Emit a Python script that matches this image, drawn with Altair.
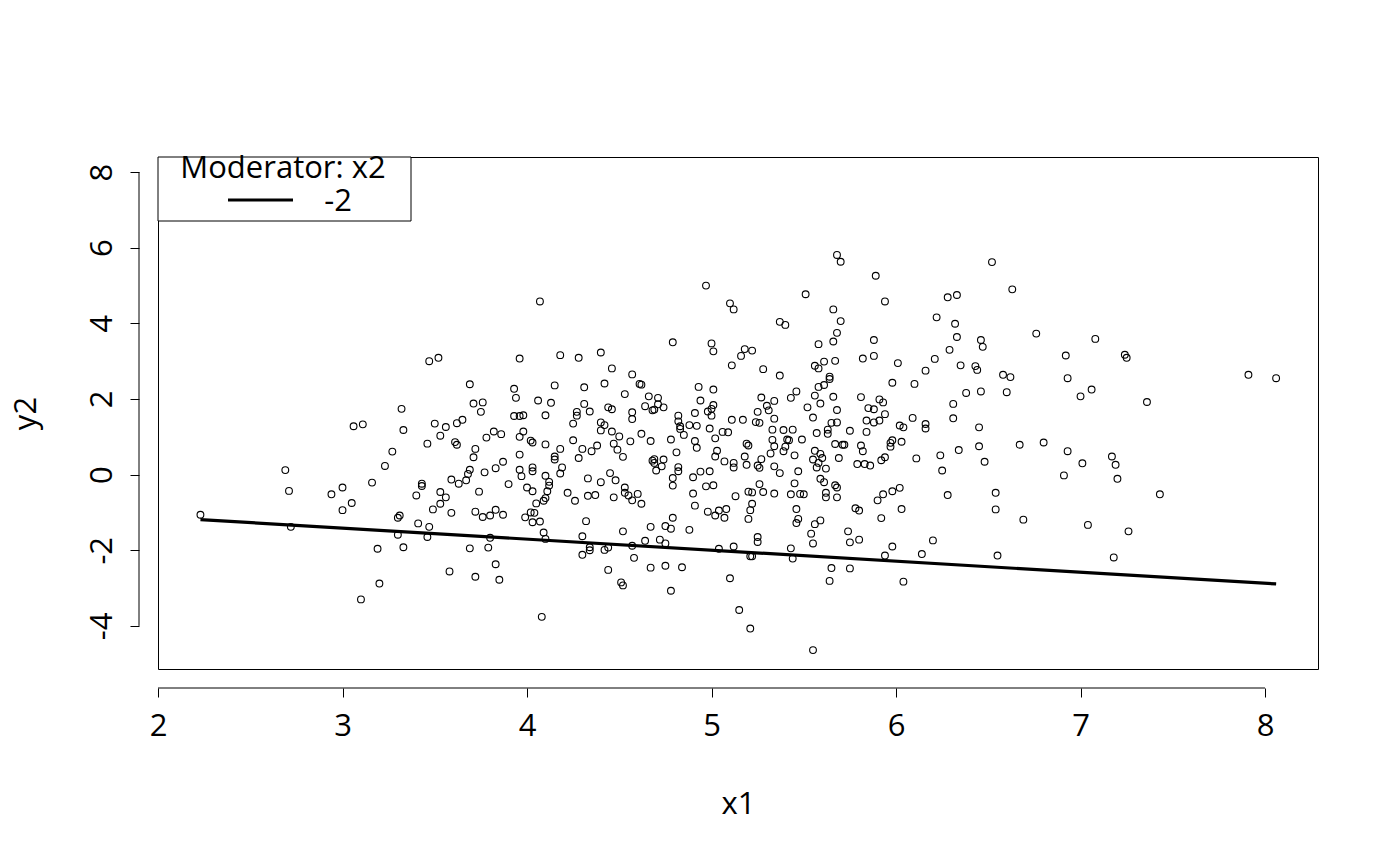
import altair as alt
import pandas as pd

# scatter of x1 vs y2
x1 = [
    3.32, 3.06, 3.11, 3.33, 3.27, 2.69, 2.71, 2.23, 2.72, 2.94, 3.00, 3.05, 3.00, 3.16, 3.23,
    3.30, 3.31, 3.30, 3.19, 3.33, 3.20, 3.10, 3.43, 3.43, 3.40, 3.41,
    4.07, 3.47, 3.52, 3.96, 4.18, 4.28, 4.40, 3.69, 3.93, 4.15, 4.31, 3.94, 4.06, 4.13, 4.31,
    3.71, 3.76, 3.75, 4.27, 4.27, 4.34, 3.93, 3.96, 3.98, 4.10, 3.50, 3.56, 3.62, 3.65, 4.25,
    4.40, 4.40, 3.53, 3.46, 3.61, 3.62, 3.82, 3.86, 3.78, 3.96, 3.98, 4.02, 4.03, 4.10, 4.25,
    3.72, 4.18, 4.30, 4.35, 4.38,
    3.71, 3.96, 4.15, 4.15, 4.28, 3.87, 3.69, 3.68, 3.67, 3.77, 3.83, 3.96, 3.97, 4.03, 4.03,
    4.10, 4.19, 4.18, 4.33, 4.40, 3.59, 3.63, 3.90, 4.12, 4.12, 4.11, 4.00, 4.03, 3.74, 3.53,
    3.56, 3.53, 3.49, 3.59, 4.22, 4.26, 4.33, 4.37, 4.10, 4.09, 4.05, 4.02, 4.04, 3.72, 3.76,
    3.80, 3.83, 3.87, 3.99, 4.03, 4.07, 4.32, 3.47, 3.46, 4.09, 4.10, 4.30, 3.80, 3.69, 3.79,
    4.34, 4.34, 4.30, 3.83, 3.58, 3.72, 3.85, 4.08,
    4.97, 5.10, 5.12, 4.79, 5.00, 5.01, 5.18, 5.22, 5.16, 5.11, 5.28, 4.46, 4.57, 4.42, 4.61,
    4.62, 4.53, 4.93, 5.01, 4.66, 4.71, 4.94, 4.71, 4.74, 4.64, 4.68, 4.69, 4.44, 4.46, 4.57,
    4.57, 5.01, 5.00, 4.98, 5.00, 4.91, 4.82, 4.82, 4.83, 4.88, 4.92, 5.27, 5.30, 5.31, 5.34,
    5.25, 5.34, 5.11, 5.17, 5.24, 5.26, 5.33, 5.39, 4.42, 4.46, 4.50, 4.47, 4.56, 4.62, 4.67,
    4.78, 4.83, 4.85, 4.99, 5.02, 5.06, 5.09, 4.91, 4.92, 5.19, 5.20, 5.33, 5.34, 4.49, 4.81,
    5.03,
    4.52, 4.68, 4.69, 4.69, 4.74, 4.73, 4.70, 4.82, 4.82, 4.79, 4.79, 4.90, 4.94, 4.99, 5.02,
    5.07, 5.12, 5.12, 5.18, 5.19, 5.25, 5.26, 5.27, 5.32, 5.34, 5.37, 4.45, 4.48, 4.53, 4.53,
    4.55, 4.57, 4.60, 4.62, 4.47, 4.90, 4.91, 4.97, 5.01, 5.13, 5.20, 5.22, 5.26, 5.28, 5.34,
    5.22, 5.21, 5.20, 4.98, 5.04, 5.02, 5.08, 5.07, 4.79, 4.75, 4.78, 4.67, 4.88, 4.52, 4.64,
    4.72, 4.75, 4.57, 4.42, 4.44, 5.25, 5.25, 5.04, 5.12, 5.21, 5.22, 4.58, 4.44, 4.67, 4.75,
    4.84, 5.10, 4.51, 4.52, 4.78, 5.15, 5.21,
    5.68, 5.70, 5.89, 5.51, 5.94, 6.28, 6.33, 5.66, 5.70, 5.37, 5.40, 6.22, 6.32, 6.33, 5.68,
    5.66, 5.58, 5.88, 5.82, 5.88, 5.67, 5.61, 5.56, 5.58, 6.01, 6.21, 6.29, 6.35, 6.16, 5.37,
    5.64, 5.64, 5.61, 5.58, 5.46, 5.43, 5.56, 5.66, 5.59, 5.98, 6.10, 5.81, 5.91, 5.93, 5.85,
    5.88, 5.52, 5.68, 5.55, 5.94, 6.31, 6.31, 6.09, 5.84, 5.88, 5.91, 5.68, 5.65, 6.02, 6.04,
    6.16, 6.16, 5.44, 5.63, 5.63, 5.57, 5.75, 5.84, 5.41, 5.42, 5.49, 5.67, 5.71, 5.72, 5.81,
    5.82, 5.97, 5.98, 5.97, 6.03, 5.39, 5.56, 6.34, 5.40,
    5.45, 5.59, 5.60, 5.55, 5.58, 5.57, 5.62, 5.69, 5.79, 5.83, 5.86, 5.92, 5.94, 6.11, 6.24,
    6.25, 5.47, 5.45, 5.59, 5.61, 5.67, 5.68, 5.43, 5.48, 5.50, 5.62, 5.62, 5.68, 5.90, 5.93,
    5.98, 6.02, 6.28, 5.46, 5.78, 5.80, 6.03, 5.92, 5.47, 5.46, 5.59, 5.56, 5.54, 5.55, 5.74,
    5.75, 5.80, 6.20, 5.98, 5.43, 5.44, 5.94, 6.14, 5.65, 5.75, 5.64, 6.04, 5.55,
    6.52, 6.63, 6.46, 6.47, 6.76, 7.08, 6.92, 7.24, 7.25, 6.43, 6.44, 6.58, 6.62, 6.93, 7.91,
    8.06, 6.38, 6.46, 6.60, 7.06, 7.00, 7.36, 6.45, 6.45, 6.67, 6.80, 6.93, 6.48, 7.01, 7.17,
    7.19, 6.91, 7.20, 6.54, 7.43, 6.54, 6.69, 7.04, 7.26, 6.55, 7.18,
]
y2 = [
    1.74, 1.28, 1.33, 1.18, 0.61, 0.12, -0.43, -1.06, -1.38, -0.52, -0.34, -0.75, -0.94, -0.21, 0.23,
    -1.14, -1.08, -1.59, -1.96, -1.92, -2.88, -3.30, -0.24, -0.30, -0.55, -1.29,
    4.58, 3.00, 3.09, 3.07, 3.16, 3.09, 3.23, 2.39, 2.27, 2.36, 2.31, 2.03, 1.96, 1.90, 1.87,
    1.88, 1.91, 1.66, 1.66, 1.56, 1.67, 1.55, 1.55, 1.57, 1.57, 1.35, 1.26, 1.36, 1.45, 1.35,
    1.38, 1.17, 1.03, 0.82, 0.86, 0.79, 1.14, 1.07, 0.98, 1.00, 1.14, 0.90, 0.85, 0.80, 0.91,
    0.68, 0.68, 0.68, 0.62, 0.77,
    0.46, 0.53, 0.48, 0.40, 0.44, 0.34, 0.13, 0.02, -0.15, 0.06, 0.17, 0.13, -0.04, 0.19, 0.09,
    -0.03, 0.19, 0.03, -0.10, -0.20, -0.13, -0.24, -0.25, -0.19, -0.29, -0.44, -0.34, -0.44, -0.45, -0.46,
    -0.60, -0.77, -0.92, -1.01, -0.48, -0.69, -0.56, -0.54, -0.62, -0.69, -0.76, -1.00, -1.01, -0.98, -1.12,
    -1.08, -0.93, -1.06, -1.13, -1.26, -1.24, -1.23, -1.38, -1.65, -1.53, -1.70, -1.63, -1.67, -1.95, -1.93,
    -1.92, -2.00, -2.12, -2.37, -2.56, -2.70, -2.78, -3.76,
    5.00, 4.53, 4.37, 3.50, 3.47, 3.26, 3.32, 3.28, 3.14, 2.89, 2.79, 2.81, 2.65, 2.41, 2.40,
    2.38, 2.13, 2.32, 2.25, 2.07, 2.03, 1.96, 1.86, 1.78, 1.81, 1.70, 1.72, 1.78, 1.73, 1.65,
    1.47, 1.84, 1.74, 1.67, 1.56, 1.63, 1.56, 1.41, 1.28, 1.31, 1.29, 2.04, 1.82, 1.70, 1.95,
    1.66, 1.48, 1.45, 1.45, 1.39, 1.37, 1.19, 1.18, 1.31, 1.14, 1.01, 0.82, 0.88, 1.08, 0.89,
    0.93, 1.21, 1.05, 1.22, 0.96, 1.13, 1.12, 0.89, 0.71, 0.82, 0.77, 0.92, 0.75, 0.66, 0.59,
    0.63,
    0.47, 0.37, 0.41, 0.31, 0.40, 0.22, 0.11, 0.20, 0.09, -0.09, -0.29, -0.07, 0.08, 0.09, 0.48,
    0.35, 0.31, 0.19, 0.48, 0.26, 0.24, 0.18, 0.41, 0.56, 0.22, 0.04, 0.04, -0.15, -0.34, -0.48,
    -0.55, -0.68, -0.51, -0.77, -0.60, -0.50, -0.82, -0.31, -0.28, -0.57, -0.45, -0.47, -0.25, -0.46, -0.50,
    -0.77, -0.94, -1.17, -0.98, -0.95, -1.08, -0.91, -1.14, -1.14, -1.36, -1.43, -1.38, -1.46, -1.50, -1.75,
    -1.72, -1.82, -1.88, -1.99, -1.93, -1.65, -1.78, -1.96, -1.90, -2.16, -2.16, -2.20, -2.52, -2.46, -2.41,
    -2.45, -2.74, -2.85, -2.93, -3.07, -3.58, -4.07,
    5.81, 5.63, 5.26, 4.77, 4.58, 4.69, 4.75, 4.37, 4.06, 4.04, 3.96, 4.16, 3.99, 3.64, 3.75,
    3.52, 3.45, 3.56, 3.07, 3.14, 3.01, 2.99, 2.88, 2.81, 2.95, 3.06, 3.30, 2.89, 2.75, 2.62,
    2.59, 2.53, 2.37, 2.32, 2.20, 2.03, 2.09, 2.06, 1.88, 2.43, 2.40, 2.05, 1.99, 1.91, 1.76,
    1.73, 1.78, 1.71, 1.51, 1.60, 1.87, 1.49, 1.50, 1.43, 1.38, 1.43, 1.38, 1.37, 1.30, 1.25,
    1.34, 1.22, 1.19, 1.19, 1.08, 1.10, 1.16, 1.13, 0.93, 0.91, 0.93, 0.81, 0.79, 0.79, 0.77,
    0.62, 0.84, 0.91, 0.74, 0.87, 0.62, 0.63, 0.65, 0.74,
    0.51, 0.55, 0.44, 0.40, 0.31, 0.19, 0.16, 0.44, 0.28, 0.28, 0.24, 0.38, 0.46, 0.43, 0.51,
    0.11, 0.09, -0.23, -0.11, -0.20, -0.28, -0.34, -0.52, -0.51, -0.52, -0.48, -0.60, -0.60, -0.68, -0.52,
    -0.44, -0.35, -0.54, -0.91, -0.89, -0.95, -0.91, -1.15, -1.17, -1.28, -1.21, -1.31, -1.56, -1.82, -1.50,
    -1.79, -1.72, -1.74, -1.90, -1.95, -2.22, -2.14, -2.10, -2.47, -2.48, -2.81, -2.83, -4.64,
    5.62, 4.90, 3.56, 3.38, 3.73, 3.59, 3.15, 3.17, 3.09, 2.87, 2.77, 2.64, 2.58, 2.55, 2.64,
    2.55, 2.16, 2.20, 2.18, 2.25, 2.07, 1.92, 1.25, 0.75, 0.79, 0.85, 0.62, 0.34, 0.30, 0.48,
    0.26, -0.02, -0.11, -0.48, -0.52, -0.92, -1.19, -1.33, -1.50, -2.14, -2.19,
]

# simple slope for moderator value -2
line_x = [2.23, 8.06]
line_y = [-1.19, -2.89]

x_ticks = [2, 3, 4, 5, 6, 7, 8]
y_ticks = [-4, -2, 0, 2, 4, 6, 8]
x_domain = [2.0, 8.287]
y_domain = [-5.14, 8.40]

legend_title = "Moderator: x2"
legend_labels = ["-2"]

FONT = "Open Sans"
FS = 31
W, H = 1160, 512

pts = pd.DataFrame({"x1": x1, "y2": y2})
fit = pd.DataFrame({"x1": line_x, "y2": line_y})

xscale = alt.Scale(domain=x_domain, nice=False, zero=False)
yscale = alt.Scale(domain=y_domain, nice=False, zero=False)

x_axis = alt.Axis(values=x_ticks, domain=False, grid=False, offset=19, tickSize=9,
                  tickColor="black", labelPadding=14, labelFlush=False,
                  labelExpr="toString(datum.value)", title="x1", titlePadding=48)
y_axis = alt.Axis(values=y_ticks, domain=False, grid=False, offset=19, tickSize=9,
                  tickColor="black", labelAngle=-90, labelAlign="center",
                  labelBaseline="bottom", labelPadding=12, labelFlush=False,
                  labelExpr="toString(datum.value)", title="y2", titlePadding=44)

points = alt.Chart(pts).mark_point(
    shape="circle", filled=False, color="black", size=46, strokeWidth=1.1, opacity=1
).encode(
    x=alt.X("x1:Q", scale=xscale, axis=x_axis),
    y=alt.Y("y2:Q", scale=yscale, axis=y_axis),
)

fit_line = alt.Chart(fit).mark_line(color="black", strokeWidth=3.2).encode(
    x="x1:Q", y="y2:Q"
)

# R-style axis lines that only span the tick range
x_line = alt.Chart(pd.DataFrame({"a": [x_ticks[0]], "b": [x_ticks[-1]]})).mark_rule(
    color="black", strokeWidth=1
).encode(x="a:Q", x2="b:Q", y=alt.value(H + 19))
y_line = alt.Chart(pd.DataFrame({"a": [y_ticks[0]], "b": [y_ticks[-1]]})).mark_rule(
    color="black", strokeWidth=1
).encode(y="a:Q", y2="b:Q", x=alt.value(-19))

# legend box in the top-left corner
leg = pd.DataFrame({"title": [legend_title], "label": legend_labels})
leg_box = alt.Chart(leg).mark_rect(fill="white", stroke="black", strokeWidth=1).encode(
    x=alt.value(0), x2=alt.value(253), y=alt.value(0), y2=alt.value(64)
)
leg_title = alt.Chart(leg).mark_text(font=FONT, fontSize=FS, color="black").encode(
    x=alt.value(125), y=alt.value(12), text="title:N"
)
leg_line = alt.Chart(leg).mark_rule(color="black", strokeWidth=3.2).encode(
    x=alt.value(70), x2=alt.value(135), y=alt.value(43)
)
leg_label = alt.Chart(leg).mark_text(font=FONT, fontSize=FS, color="black").encode(
    x=alt.value(180), y=alt.value(45), text="label:N"
)

chart = alt.layer(
    points, fit_line, x_line, y_line, leg_box, leg_title, leg_line, leg_label
).properties(
    width=W, height=H,
    padding={"left": 150, "top": 149, "right": 70, "bottom": 180},
    autosize=alt.AutoSizeParams(type="none"),
    background="white",
).configure_view(
    stroke="black", strokeWidth=1
).configure_axis(
    labelFont=FONT, labelFontSize=FS, labelColor="black",
    titleFont=FONT, titleFontSize=FS, titleColor="black", titleFontWeight="normal",
)

chart.save("out.html", embed_options={"renderer": "svg", "actions": False})
